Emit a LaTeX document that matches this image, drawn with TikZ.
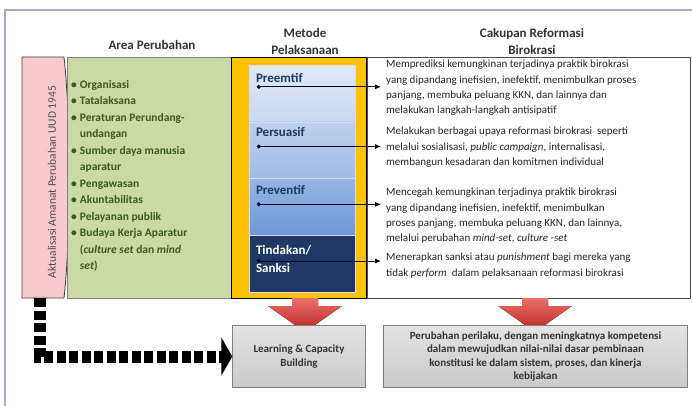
\documentclass[tikz,border=0pt]{standalone}
\usepackage{fontspec}
\setmainfont{Carlito}
\usetikzlibrary{arrows.meta,calc,positioning}
\definecolor{pinkbox}{RGB}{248,202,206}
\definecolor{greenbox}{RGB}{203,218,165}
\definecolor{greentext}{RGB}{62,88,32}
\definecolor{goldbox}{RGB}{255,194,0}
\definecolor{navy}{RGB}{31,56,100}
\definecolor{frameblue}{RGB}{165,172,198}
\tikzset{
  head/.style={font=\fontsize{13}{17}\selectfont\bfseries, align=center, text=black!80},
  band/.style={draw=white!85!blue, minimum width=106pt, minimum height=56.75pt, inner sep=0pt},
  bandtext/.style={font=\fontsize{13}{18}\selectfont\bfseries, anchor=north west, inner sep=0pt, align=left},
  para/.style={font=\fontsize{11}{15.3}\selectfont, anchor=north west, align=left, inner sep=0pt, text=black!85},
  linkarrow/.style={thick, black!80!blue, shorten >=5pt, {Circle[length=4pt]}-{Latex[length=6pt,width=5pt]}},
  redarrow/.style={top color={rgb,255:red,232;green,112;blue,104}, bottom color={rgb,255:red,190;green,36;blue,36}},
  greybox/.style={draw=gray, top color=gray!22, middle color=gray!6, bottom color=gray!42, align=center,
    font=\fontsize{11}{13.6}\selectfont\bfseries, text=black!80},
  dasharrow/.style={line width=12pt, dash pattern=on 9pt off 3.5pt, -{Triangle[width=38pt,length=11pt]}},
  downarrow/.pic={\fill[redarrow] (-13,-8) -- (13,-8) -- (13,0) -- (37,0) -- (0,26) -- (-37,0) -- (-13,0) -- cycle;}
}

\begin{document}
\begin{tikzpicture}[x=1pt, y=-1pt]
    \useasboundingbox (0,0) rectangle (692,406);
    % frame
    \draw[frameblue, line width=1.6pt] (5,406) -- (5,10) -- (692,10);

    % headers
    \node[head] (hArea) at (152,45) {Area Perubahan};
    \node[head] (hMetode) at (305,41) {Metode\\Pelaksanaan};
    \node[head] (hCakupan) at (532,41) {Cakupan Reformasi\\Birokrasi};

    % pink strip
    \filldraw[fill=pinkbox, draw=black!75, thick] (22,57) -- (64,57)
        .. controls (71,120) and (71,235) .. (64,298) -- (22,298) -- cycle;
    \node[rotate=90, font=\fontsize{11.5}{13}\selectfont, text=black!70] (amanat) at (52,182)
        {Aktualisasi Amanat Perubahan UUD 1945};
    \coordinate (pinkbase) at (40,298);

    % area perubahan
    \node[draw=gray, fill=greenbox, minimum width=164pt, minimum height=241pt] (area) at (149,177.5) {};
    \node[anchor=north west, inner sep=0pt, text=greentext, font=\fontsize{11.5}{16.5}\selectfont\bfseries]
        (list) at (71,76.5) {%
        \begin{tabular}{@{}l@{\hspace{3pt}}l@{}}
        \textbullet & Organisasi\\
        \textbullet & Tatalaksana\\
        \textbullet & Peraturan Perundang-\\
                    & undangan\\
        \textbullet & Sumber daya manusia\\
                    & aparatur\\
        \textbullet & Pengawasan\\
        \textbullet & Akuntabilitas\\
        \textbullet & Pelayanan publik\\
        \textbullet & Budaya Kerja Aparatur\\
                    & (\textit{culture set} dan \textit{mind}\\
                    & \textit{set})
        \end{tabular}};

    % metode
    \node[draw=black, thick, fill=goldbox, minimum width=135pt, minimum height=241pt] (metode) at (299,177.5) {};
    \node[band, top color={rgb,255:red,224;green,234;blue,247}, bottom color={rgb,255:red,200;green,216;blue,238}]
        (preemtif) at (302,93.4) {};
    \node[band, top color={rgb,255:red,190;green,208;blue,236}, bottom color={rgb,255:red,160;green,188;blue,228}]
        (persuasif) at (302,150.1) {};
    \node[band, top color={rgb,255:red,150;green,182;blue,226}, bottom color={rgb,255:red,110;green,152;blue,214}]
        (preventif) at (302,206.9) {};
    \node[band, fill=navy] (tindakan) at (302,263.6) {};

    \node[bandtext, text=navy] (t1) at ($(preemtif.north west)+(7,8)$) {Preemtif};
    \node[bandtext, text=navy] (t2) at ($(persuasif.north west)+(7,6)$) {Persuasif};
    \node[bandtext, text=navy] (t3) at ($(preventif.north west)+(7,7)$) {Preventif};
    \node[bandtext, text=white] (t4) at ($(tindakan.north west)+(7,10)$) {Tindakan/\\Sanksi};

    % cakupan
    \node[draw=gray!60!black, thick, fill=white, minimum width=323pt, minimum height=241pt] (cakupan) at (528.5,177.5) {};
    \node[para] (p1) at (386,60) {Memprediksi kemungkinan terjadinya praktik birokrasi\\
        yang dipandang inefisien, inefektif, menimbulkan proses\\
        panjang, membuka peluang KKN, dan lainnya dan\\
        melakukan langkah-langkah antisipatif};
    \node[para] (p2) at (386,127) {Melakukan berbagai upaya reformasi birokrasi\ \ seperti\\
        melalui sosialisasi, \textit{public campaign}, internalisasi,\\
        membangun kesadaran dan komitmen individual};
    \node[para] (p3) at (386,188) {Mencegah kemungkinan terjadinya praktik birokrasi\\
        yang dipandang inefisien, inefektif, menimbulkan\\
        proses panjang, membuka peluang KKN, dan lainnya,\\
        melalui perubahan \textit{mind-set}, \textit{culture -set}};
    \node[para] (p4) at (386,253) {Menerapkan sanksi atau \textit{punishment} bagi mereka yang\\
        tidak \textit{perform}\ \ dalam pelaksanaan reformasi birokrasi};

    % links
    \coordinate (d1) at ($(preemtif.north west)+(8,22)$);
    \coordinate (d2) at ($(persuasif.north west)+(8,25)$);
    \coordinate (d3) at ($(preventif.north west)+(8,26)$);
    \coordinate (d4) at ($(tindakan.north west)+(8,26)$);
    \draw[linkarrow] (d1) -- (d1 -| p1.west);
    \draw[linkarrow] (d2) -- (d2 -| p2.west);
    \draw[linkarrow] (d3) -- (d3 -| p3.west);
    \draw[linkarrow] (d4) -- (d4 -| p4.west);

    % hasil
    \pic at (305,306) {downarrow};
    \pic at (535,306) {downarrow};
    \node[greybox, minimum width=133pt, minimum height=62pt] (learning) at (299,356.5)
        {Learning \& Capacity\\Building};
    \node[greybox, minimum width=304pt, minimum height=62pt] (perilaku) at (535.5,356.5)
        {Perubahan perilaku, dengan meningkatnya kompetensi\\
        dalam mewujudkan nilai-nilai dasar pembinaan\\
        konstitusi ke dalam sistem, proses, dan kinerja\\
        kebijakan};

    \draw[dasharrow] (pinkbase) |- (learning.west);
\end{tikzpicture}
\end{document}
